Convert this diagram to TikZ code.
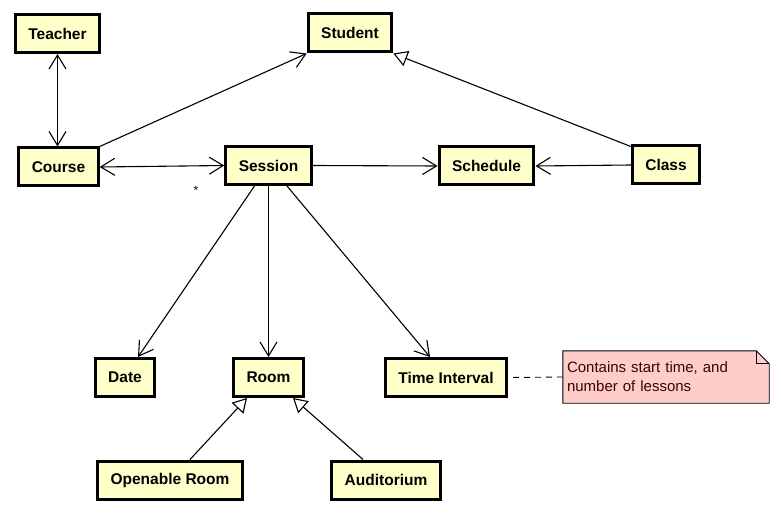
\documentclass[tikz,border=0pt]{standalone}
\usepackage{fontspec}
\setmainfont{Liberation Sans}
\usetikzlibrary{arrows.meta, positioning, backgrounds}
\definecolor{classfill}{RGB}{255,255,202}
\definecolor{notefill}{RGB}{255,204,204}
\definecolor{notetext}{RGB}{64,0,0}

\begin{document}
\begin{tikzpicture}[x=1pt, y=-1pt,
    cls/.style={draw, line width=3pt, fill=classfill, minimum height=38pt,
                inner xsep=13pt, font=\fontsize{15.5}{18}\selectfont\bfseries},
    assoc/.style={line width=1.1pt, -{Straight Barb[length=14pt,width=17pt]}},
    both/.style={line width=1.1pt, {Straight Barb[length=14pt,width=17pt]}-{Straight Barb[length=14pt,width=17pt]}},
    inherit/.style={line width=1.1pt, -{Triangle[open,length=14pt,width=16pt,fill=white]}}
  ]
      \useasboundingbox (0,0) rectangle (781,513); % page size
      % classes
      \node[cls] (teacher) at (57.5,33.5) {Teacher};
      \node[cls] (student) at (350,33) {Student};
      \node[cls] (course) at (58.5,167) {Course};
      \node[cls] (session) at (268.5,165.5) {Session};
      \node[cls] (schedule) at (486.5,166) {Schedule};
      \node[cls] (class) at (666,165) {Class};
      \node[cls] (date) at (125,377.5) {Date};
      \node[cls] (room) at (268.5,377.5) {Room};
      \node[cls] (interval) at (446,377.5) {Time Interval};
      \node[cls] (openroom) at (170,480) {Openable Room};
      \node[cls] (auditorium) at (386,480) {Auditorium};
      % note, folded corner
      \node[minimum width=206pt, minimum height=52pt, text width=198pt, inner xsep=4pt,
            align=left, text=notetext, font=\fontsize{15}{19}\selectfont] (note) at (666,377)
            {Contains start time, and\\number of lessons};
      \begin{scope}[on background layer]
      \draw[line width=0.9pt, fill=notefill] (note.north west) -- ([xshift=-13pt]note.north east)
            -- ([yshift=-13pt]note.north east) -- (note.south east) -- (note.south west) -- cycle;
      \draw[line width=0.9pt] ([xshift=-13pt]note.north east) -- ([xshift=-13pt,yshift=-13pt]note.north east)
            -- ([yshift=-13pt]note.north east);
      \end{scope}
      % connectors
      \draw[both] (teacher.south) -- (teacher.south |- course.north);
      \draw[assoc] (course.north east) -- (student.south west);
      \draw[both] (course.east) -- (session.west);
      \node[font=\fontsize{12}{12}\selectfont] (mult) at (196,190) {*};
      \draw[assoc] (session.east) -- (schedule.west);
      \draw[assoc] (class.west) -- (schedule.east);
      \draw[inherit] ([yshift=-2pt]class.north west) -- (student.south east);
      \draw[assoc] ([xshift=-14pt]session.south) -- ([xshift=13pt]date.north);
      \draw[assoc] (session.south) -- (room.north);
      \draw[assoc] ([xshift=18.5pt]session.south) -- ([xshift=-16pt]interval.north);
      \draw[inherit] ([xshift=20pt]openroom.north) -- ([xshift=-21.5pt]room.south);
      \draw[inherit] ([xshift=-23pt]auditorium.north) -- ([xshift=24.5pt]room.south);
      \draw[line width=0.9pt, dash pattern=on 6pt off 5pt, shorten <=5pt] (interval.east) -- (note.west);
\end{tikzpicture}
\end{document}
